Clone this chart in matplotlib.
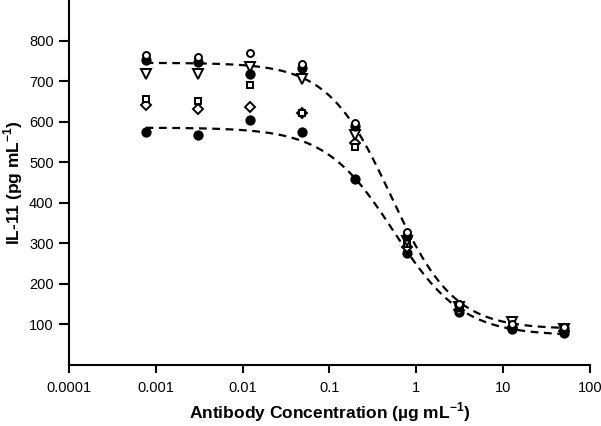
import numpy as np
import matplotlib.pyplot as plt

plt.rcParams['font.family'] = ['Liberation Sans', 'DejaVu Sans']
plt.rcParams['mathtext.fontset'] = 'custom'
plt.rcParams['mathtext.rm'] = 'Liberation Sans'
plt.rcParams['mathtext.bf'] = 'Liberation Sans:bold'

# antibody concentration (ug/mL), 4-fold dilutions
conc = [0.000763, 0.00305, 0.0122, 0.0488, 0.195, 0.781, 3.125, 12.5, 50]

# IL-11 (pg/mL) per sample
open_circle = [765, 759, 770, 742, 597, 327, 150, 100, 93]
filled_high = [751, 748, 718, 731, 588, 318, 146, 93, 90]
triangle = [718, 718, 734, 706, 566, 305, 143, 104, 88]
square = [655, 650, 691, 620, 537, 297, 139, 96, 85]
diamond = [640, 632, 636, 620, 548, 290, 135, 90, 82]
filled_low = [574, 568, 603, 574, 459, 275, 131, 87, 79]

# 4PL fits: top, bottom, EC50, hill
fit_upper = (745, 88, 0.51, 1.2)
fit_lower = (585, 72, 0.55, 1.1)

xticks = [0.0001, 0.001, 0.01, 0.1, 1, 10, 100]
xticklabels = ['0.0001', '0.001', '0.01', '0.1', '1', '10', '100']
yticks = [100, 200, 300, 400, 500, 600, 700, 800]


def four_pl(x, top, bottom, ec50, hill):
    return bottom + (top - bottom) / (1.0 + (x / ec50) ** hill)


fig = plt.figure(figsize=(6.01, 4.26), dpi=100)
ax = fig.add_axes([0.1148, 0.1441, 0.8669, 0.8559])

xs = np.logspace(np.log10(conc[0]), np.log10(conc[-1] * 1.08), 300)
for p in (fit_upper, fit_lower):
    ax.plot(xs, four_pl(xs, *p), color='black', lw=1.6, ls=(0, (3.5, 2.5)), zorder=2)

mk = dict(ls='', color='black', mec='black', mew=1.4, zorder=3)
ax.plot(conc, filled_low, marker='o', ms=6, mfc='black', **mk)
ax.plot(conc, diamond, marker='D', ms=5.5, mfc='white', **mk)
ax.plot(conc, square, marker='s', ms=4.5, mfc='white', **mk)
ax.plot(conc, triangle, marker='v', ms=6.5, mfc='white', **mk)
ax.plot(conc, filled_high, marker='o', ms=6, mfc='black', **mk)
ax.plot(conc, open_circle, marker='o', ms=5, mfc='white', **mk)

ax.set_xscale('log')
ax.set_xlim(1e-4, 100)
ax.set_ylim(0, 900)
ax.set_xticks(xticks)
ax.set_xticklabels(xticklabels)
ax.minorticks_off()
ax.set_yticks(yticks)

for s in ('top', 'right'):
    ax.spines[s].set_visible(False)
for s in ('left', 'bottom'):
    ax.spines[s].set_linewidth(1.5)
ax.tick_params(axis='both', direction='out', width=1.5, labelsize=10.5)
ax.tick_params(axis='x', length=6, pad=6)
ax.tick_params(axis='y', length=7, pad=4)

ax.set_xlabel(r'Antibody Concentration (µg mL$^{\mathbf{-1}}$)', fontsize=12.5,
              fontweight='bold', labelpad=4)
ax.set_ylabel(r'IL-11 (pg mL$^{\mathbf{-1}}$)', fontsize=12.5, fontweight='bold',
              labelpad=3)

fig.savefig('out.png', dpi=100)
